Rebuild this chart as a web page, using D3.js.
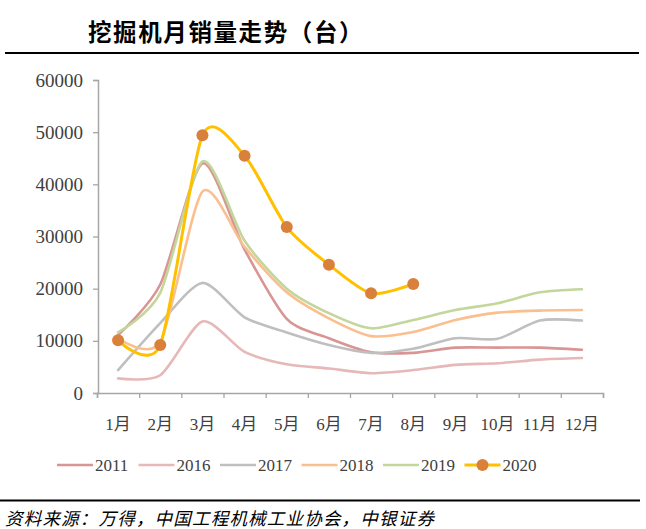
<!DOCTYPE html>
<html><head><meta charset="utf-8">
<script src="https://cdn.jsdelivr.net/npm/d3@7"></script>
<style>
body{margin:0;background:#fff;}
svg{display:block;}
.num{font-family:"Liberation Serif","Noto Sans CJK SC",serif;}
</style></head>
<body>
<svg id="c" width="646" height="529"></svg>
<script>
const months = ["1月","2月","3月","4月","5月","6月","7月","8月","9月","10月","11月","12月"];
const yTicks = [0,10000,20000,30000,40000,50000,60000];
const seriesNames = ["2011","2016","2017","2018","2019","2020"];
const s2011 = [11100,20800,44000,27500,14200,10500,7800,7700,8700,8700,8700,8300];
const s2016 = [2800,3400,13700,7900,5500,4700,3800,4400,5400,5700,6400,6700];
const s2017 = [4400,13400,21100,14500,11600,9200,7700,8500,10500,10400,13900,13900];
const s2018 = [10500,9800,38600,28000,19300,14300,10900,11700,14000,15400,15800,15900];
const s2019 = [11600,19200,44400,29200,20000,15300,12400,14000,15900,17200,19300,19900];
const s2020 = [10100,9200,49400,45500,31800,24600,19100,20900];
const seriesValues = [s2011,s2016,s2017,s2018,s2019,s2020];
const colors = ["#d99594","#e6b8b7","#bfbfbf","#fabf8f","#c3d69b","#ffc000"];
const markerColor = "#d9803a";
const title = "挖掘机月销量走势（台）";
const source = "资料来源：万得，中国工程机械工业协会，中银证券";

const svg = d3.select("#c");
// title
svg.append("text").attr("x",88).attr("y",41)
  .attr("font-family","'Noto Sans CJK SC'").attr("font-weight",700)
  .attr("font-size",23.5).attr("fill","#000").attr("letter-spacing",1.6).text(title);
svg.append("line").attr("x1",5).attr("x2",639).attr("y1",53).attr("y2",53)
  .attr("stroke","#000").attr("stroke-width",2.2);

const L=97,R=603,T=80,B=393;
const x = d3.scaleBand().domain(months).range([L,R]).padding(0);
const xEdge = d3.scaleLinear().domain([0,12]).range([L,R]);
const y = d3.scaleLinear().domain([0,60000]).range([B,T]);
const cx = m => x(m)+x.bandwidth()/2;

// y axis
const ya = svg.append("g").attr("transform",`translate(${L+1},0)`)
  .call(d3.axisLeft(y).tickValues(yTicks).tickSize(5).tickPadding(10).tickFormat(d3.format("d")));
ya.select(".domain").attr("stroke","#a6a6a6").attr("stroke-width",1.5);
ya.selectAll(".tick line").attr("stroke","#a6a6a6").attr("stroke-width",1.3);
ya.selectAll("text").attr("class","num").attr("font-size",19).attr("fill","#404040");

// x axis
const xe = svg.append("g").attr("transform",`translate(0,${B})`)
  .call(d3.axisBottom(xEdge).tickValues(d3.range(0,13)).tickSize(5).tickFormat(""));
xe.select(".domain").attr("stroke","#a6a6a6").attr("stroke-width",1.5);
xe.selectAll(".tick line").attr("stroke","#a6a6a6").attr("stroke-width",1.3);
const xl = svg.append("g").attr("transform",`translate(0,${B})`)
  .call(d3.axisBottom(x).tickSize(0).tickPadding(25));
xl.select(".domain").remove();
xl.selectAll("text").attr("class","num").attr("font-size",17).attr("fill","#404040");

// lines
const line = d3.line().x((d,i)=>cx(months[i])).y(d=>y(d)).curve(d3.curveCardinal.tension(0.25));
const lg = svg.append("g");
seriesValues.forEach((vals,k)=>{
  lg.append("path").datum(vals).attr("d",line).attr("fill","none")
    .attr("stroke",colors[k]).attr("stroke-width",k===5?3:2.6)
    .attr("stroke-linecap","round").attr("stroke-linejoin","round");
});
lg.selectAll("circle").data(s2020).join("circle")
  .attr("cx",(d,i)=>cx(months[i])).attr("cy",d=>y(d)).attr("r",6).attr("fill",markerColor);

// legend
const leg = svg.append("g");
seriesNames.forEach((n,k)=>{
  const x0 = 57 + k*81.5, yy = 465;
  leg.append("line").attr("x1",x0).attr("x2",x0+36).attr("y1",yy).attr("y2",yy)
    .attr("stroke",colors[k]).attr("stroke-width",k===5?3:2.6);
  if(k===5) leg.append("circle").attr("cx",x0+18).attr("cy",yy).attr("r",6).attr("fill",markerColor);
  leg.append("text").attr("class","num").attr("x",x0+38).attr("y",yy+6)
    .attr("font-size",17).attr("fill","#404040").text(n);
});

// footer
svg.append("line").attr("x1",0).attr("x2",640).attr("y1",500.5).attr("y2",500.5)
  .attr("stroke","#000").attr("stroke-width",2.2);
svg.append("text").attr("x",5).attr("y",525)
  .attr("font-family","'Noto Sans CJK SC'").attr("font-style","italic")
  .attr("font-size",17.5).attr("fill","#000").attr("letter-spacing",1.2).text(source);
</script>
</body></html>
